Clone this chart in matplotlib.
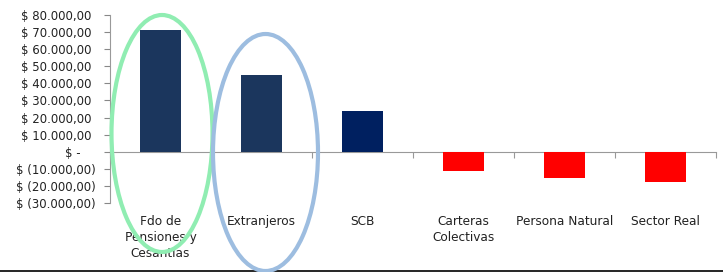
import matplotlib
matplotlib.use("Agg")
import matplotlib.pyplot as plt
from matplotlib.patches import Ellipse
from matplotlib.lines import Line2D
from matplotlib.ticker import FuncFormatter, FixedLocator
import numpy as np

categories = ["Fdo de\nPensiones y\nCesantias", "Extranjeros", "SCB",
              "Carteras\nColectivas", "Persona Natural", "Sector Real"]
values = [71000, 45000, 24000, -11500, -15400, -18000]
bar_colors = ["#1B365D", "#1B365D", "#002060", "#FF0000", "#FF0000", "#FF0000"]
y_ticks = [-30000, -20000, -10000, 0, 10000, 20000, 30000, 40000, 50000, 60000, 70000, 80000]

W, H = 723, 272
fig = plt.figure(figsize=(W / 100, H / 100), dpi=100)
ax = fig.add_axes([110 / W, 1 - 203 / H, (716 - 110) / W, (203 - 15) / H])

x = np.arange(len(categories))
ax.bar(x, values, width=0.4, color=bar_colors, zorder=3)

ax.set_xlim(-0.5, len(categories) - 0.5)
ax.set_ylim(-30000, 80000)


def money(v, pos=None):
    if abs(v) < 1e-9:
        return "$ -    "
    s = f"{abs(v):,.2f}".replace(",", "X").replace(".", ",").replace("X", ".")
    if v < 0:
        return f"$ ({s})"
    return f"$ {s} "


ax.yaxis.set_major_locator(FixedLocator(y_ticks))
ax.yaxis.set_major_formatter(FuncFormatter(money))
ax.tick_params(axis="y", direction="out", length=4, width=0.8, color="#888888",
               labelsize=8.5, labelcolor="#222222", pad=6.5)

for side in ["top", "right"]:
    ax.spines[side].set_visible(False)
ax.spines["left"].set_color("#999999")
ax.spines["left"].set_linewidth(0.8)
ax.spines["bottom"].set_position(("data", 0))
ax.spines["bottom"].set_color("#999999")
ax.spines["bottom"].set_linewidth(0.8)

ax.set_xticks(np.arange(len(categories) + 1) - 0.5)
ax.set_xticklabels([])
ax.tick_params(axis="x", direction="out", length=4, width=0.8, color="#999999")

for xi, lab in zip(x, categories):
    ax.annotate(lab, xy=(xi, 0), xycoords=("data", "axes fraction"),
                xytext=(0, -8.5), textcoords="offset points",
                ha="center", va="top", fontsize=8.7, color="#222222",
                linespacing=1.32)

# highlight ellipses (figure pixel geometry)
e1 = Ellipse(((162) / W, 1 - 133.5 / H), 101 / W, 237 / H, transform=fig.transFigure,
             fill=False, edgecolor="#90EDB2", linewidth=3.0, zorder=10)
e2 = Ellipse(((265.5) / W, 1 - 152.5 / H), 105 / W, 237 / H, transform=fig.transFigure,
             fill=False, edgecolor="#9DBDE0", linewidth=3.0, zorder=10)
fig.add_artist(e1)
fig.add_artist(e2)

fig.add_artist(Line2D([0, 1], [1 - 270.5 / H, 1 - 270.5 / H], transform=fig.transFigure,
                      color="black", linewidth=1.2))

fig.savefig("out.png", dpi=100)
